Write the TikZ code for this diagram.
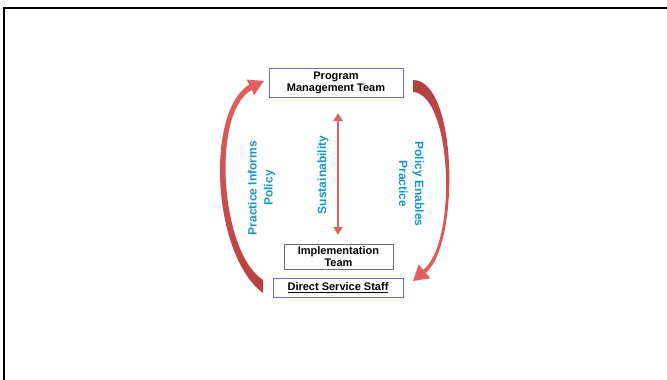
\documentclass[tikz,border=0pt]{standalone}
\usepackage{fontspec}
\setmainfont{Liberation Sans}
\usetikzlibrary{arrows.meta}
\definecolor{boxblue}{RGB}{110,110,185}
\definecolor{boxgray}{RGB}{110,110,110}
\definecolor{txtblue}{RGB}{25,150,200}
\definecolor{arrred}{RGB}{226,98,96}
\definecolor{arrdark}{RGB}{180,64,64}
\tikzset{
  teambox/.style={draw=boxblue, line width=0.9pt, inner sep=0pt, align=center,
    font=\fontsize{11}{12}\selectfont\bfseries},
  vlabel/.style={text=txtblue, align=center, inner sep=0pt,
    font=\fontsize{12}{16}\selectfont\bfseries},
  bigarrow/.style={draw=none},
  dblarrow/.style={arrred, line width=2.5pt,
    {Triangle[width=9pt,length=8pt]}-{Triangle[width=9pt,length=8pt]}},
}
\begin{document}
\begin{tikzpicture}[x=1pt,y=-1pt]
\useasboundingbox (0,0) rectangle (667,380);
\fill[white] (0,0) rectangle (667,380);
\draw[line width=2pt] (4,381) -- (4,8) -- (668,8);

% boxes
\node[teambox, minimum width=134pt, minimum height=29pt] (pmt) at (336,82.5) {Program\\Management Team};
\node[teambox, draw=boxgray, minimum width=109pt, minimum height=25pt] (impl) at (338.5,256.5) {Implementation\\Team};
\node[teambox, minimum width=130pt, minimum height=19pt] (dss) at (338,287.5) {\underline{Direct Service Staff}};

% labels
\node[vlabel, rotate=90] (pip) at (261.5,188) {Practice Informs\\Policy};
\node[vlabel, rotate=-90] (pep) at (411.5,184) {Policy Enables\\Practice};
\node[vlabel, rotate=90] (sus) at (323,175) {Sustainability};

% sustainability double arrow
\coordinate (s1) at (338,113);
\coordinate (s2) at (338,235);
\draw[dblarrow] (s1) -- (s2);

% left curved arrow (practice informs policy)
\shade[bigarrow, top color=arrred, middle color=arrred, bottom color=arrdark]
  (263,293) .. controls (212,255) and (205,112) .. (249.1,84.6)
  -- (246.8,79.6) -- (264,81) -- (254.0,95.0) -- (251.7,90.0)
  .. controls (211,112) and (220,252) .. (263,280) -- cycle;

% right curved arrow (policy enables practice)
\shade[bigarrow, top color=arrdark, middle color=arrred, bottom color=arrred]
  (413,80) .. controls (458,80) and (460,244) .. (425.8,272.9)
  -- (430.3,278.3) -- (413,281) -- (418.7,264.5) -- (423.2,269.9)
  .. controls (458,242) and (452,94) .. (413,92) -- cycle;
\end{tikzpicture}
\end{document}
